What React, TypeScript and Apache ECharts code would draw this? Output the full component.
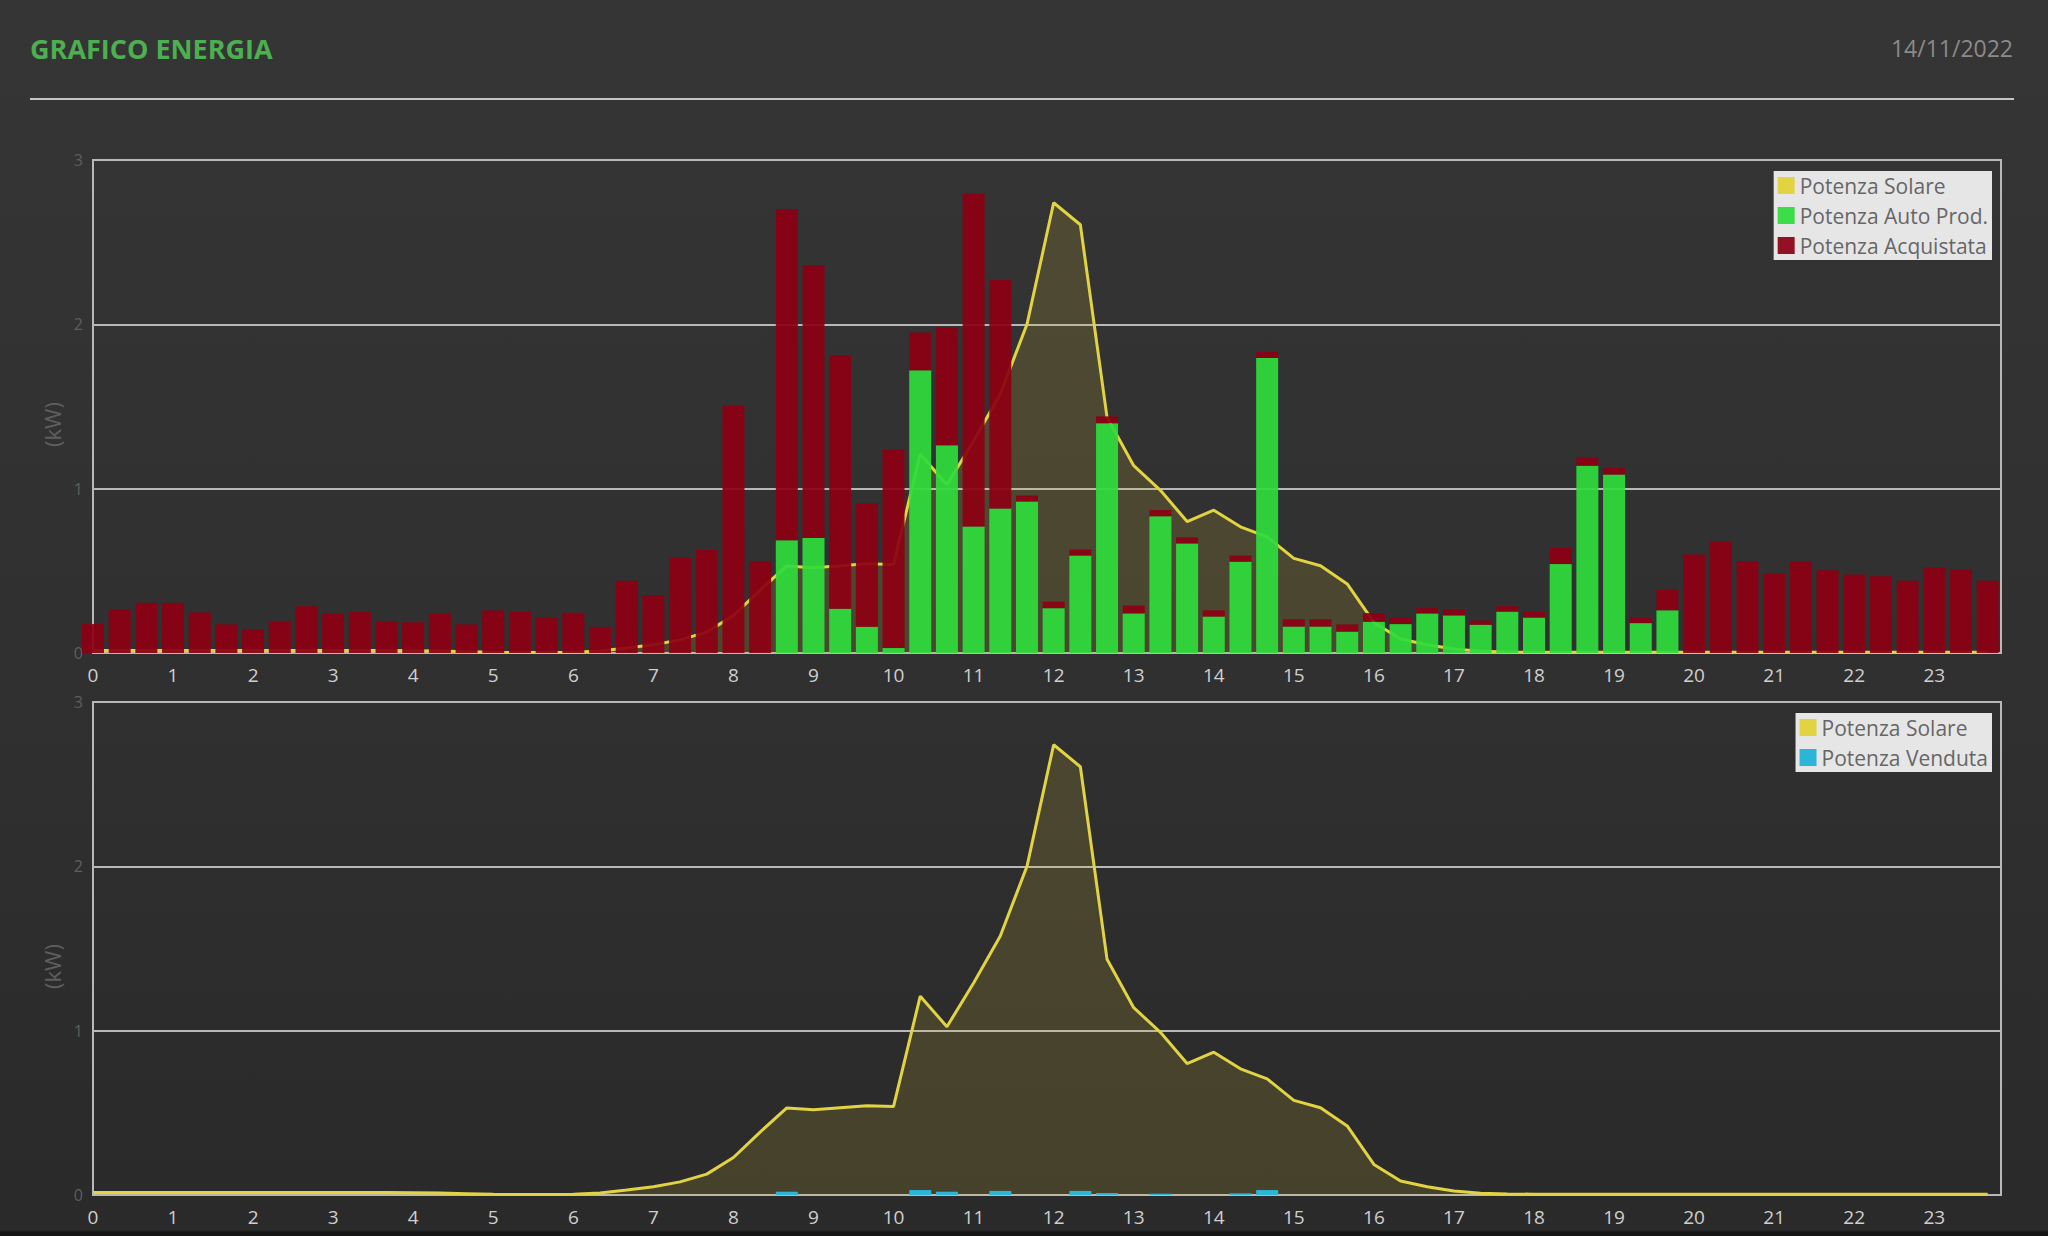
import React, { useEffect, useRef } from "react";
import * as echarts from "echarts";

// x axis: 10-minute slots from 0:00 to 23:50; readings every 20 minutes (0:00 ... 23:40)
const SLOTS_10MIN: string[] = Array.from(
  { length: 144 },
  (_, i) => `${Math.floor(i / 6)}:${String((i % 6) * 10).padStart(2, "0")}`
);
const HOUR_LABELS: string[] = Array.from({ length: 24 }, (_, i) => String(i));

const TITLE = "GRAFICO ENERGIA";
const DATE = "14/11/2022";
const Y_NAME = "(kW)";

// one value per 20-minute reading (72 readings)
const SOLAR: number[] = [
  0.015, 0.015, 0.015, 0.015, 0.015, 0.015, 0.015, 0.015, 0.015, 0.015, 0.015, 0.015,
  0.014, 0.012, 0.008, 0.004, 0.003, 0.003, 0.004, 0.012, 0.03, 0.05, 0.08, 0.127,
  0.228, 0.383, 0.53, 0.519, 0.531, 0.543, 0.539, 1.21, 1.024, 1.29, 1.576, 2.0,
  2.74, 2.606, 1.434, 1.14, 0.99, 0.8, 0.869, 0.768, 0.707, 0.576, 0.531, 0.42,
  0.186, 0.085, 0.05, 0.024, 0.01, 0.006, 0.005, 0.005, 0.005, 0.005, 0.005, 0.005,
  0.005, 0.005, 0.005, 0.005, 0.005, 0.005, 0.005, 0.005, 0.005, 0.005, 0.005, 0.005,
];

const AUTO_PROD: number[] = [
  0, 0, 0, 0, 0, 0, 0, 0, 0, 0, 0, 0,
  0, 0, 0, 0, 0, 0, 0, 0, 0, 0, 0, 0,
  0, 0, 0.686, 0.7, 0.27, 0.16, 0.03, 1.72, 1.264, 0.77, 0.88, 0.922,
  0.273, 0.593, 1.398, 0.241, 0.832, 0.667, 0.222, 0.556, 1.795, 0.161, 0.161, 0.13,
  0.19, 0.176, 0.241, 0.229, 0.172, 0.252, 0.216, 0.541, 1.14, 1.086, 0.182, 0.26,
  0, 0, 0, 0, 0, 0, 0, 0, 0, 0, 0, 0,
];

const ACQUISTATA: number[] = [
  0.176, 0.266, 0.306, 0.306, 0.247, 0.174, 0.145, 0.195, 0.285, 0.239, 0.249, 0.195,
  0.187, 0.241, 0.174, 0.258, 0.249, 0.218, 0.245, 0.159, 0.44, 0.352, 0.58, 0.627,
  1.505, 0.56, 2.014, 1.66, 1.54, 0.75, 1.207, 0.23, 0.716, 2.025, 1.39, 0.036,
  0.039, 0.036, 0.042, 0.048, 0.038, 0.037, 0.038, 0.037, 0.037, 0.044, 0.044, 0.044,
  0.053, 0.038, 0.032, 0.035, 0.025, 0.033, 0.034, 0.098, 0.05, 0.042, 0.032, 0.124,
  0.6, 0.677, 0.558, 0.482, 0.556, 0.503, 0.478, 0.467, 0.44, 0.522, 0.509, 0.44,
];

const VENDUTA: number[] = [
  0, 0, 0, 0, 0, 0, 0, 0, 0, 0, 0, 0,
  0, 0, 0, 0, 0, 0, 0, 0, 0, 0, 0, 0,
  0, 0, 0.02, 0, 0, 0, 0, 0.03, 0.02, 0, 0.025, 0,
  0, 0.025, 0.012, 0, 0.008, 0, 0, 0.01, 0.03, 0, 0, 0,
  0, 0, 0, 0, 0, 0, 0, 0, 0, 0, 0, 0,
  0, 0, 0, 0, 0, 0, 0, 0, 0, 0, 0, 0,
];

const LEGEND_TOP = ["Potenza Solare", "Potenza Auto Prod.", "Potenza Acquistata"];
const LEGEND_BOTTOM = ["Potenza Solare", "Potenza Venduta"];

const C_SOLAR = "#e2d343";
const C_GREEN = "#2fdc3c";
const C_RED = "#8c0012";
const C_CYAN = "#2bb6d8";
const C_GRID = "#b8b8b8";

// place each 20-minute reading on its 10-minute slot (even slots), gaps elsewhere
const toSlots = (vals: number[]) =>
  SLOTS_10MIN.map((_, i) => (i % 2 === 0 && i / 2 < vals.length ? vals[i / 2] : null));

export default function App() {
  const ref = useRef<HTMLDivElement>(null);

  useEffect(() => {
    if (!ref.current) return;
    const chart = echarts.init(ref.current, undefined, { renderer: "svg" });

    const font = "'Open Sans', 'Noto Sans', sans-serif";

    const xAxis = (gridIndex: number) => ({
      type: "category",
      gridIndex,
      data: SLOTS_10MIN,
      boundaryGap: false,
      axisLine: { show: true, lineStyle: { color: C_GRID, width: 2 } },
      axisTick: { show: false },
      splitLine: { show: false },
      axisLabel: {
        color: "#cfcfcf",
        fontSize: 19,
        fontFamily: font,
        margin: 12,
        interval: (index: number) => index % 6 === 0,
        formatter: (_v: string, index: number) => HOUR_LABELS[Math.floor(index / 6)],
      },
    });

    const yAxis = (gridIndex: number) => ({
      type: "value",
      gridIndex,
      min: 0,
      max: 3,
      interval: 1,
      axisLine: { show: true, lineStyle: { color: C_GRID, width: 2 } },
      axisTick: { show: false },
      splitLine: { show: true, lineStyle: { color: C_GRID, width: 2 } },
      axisLabel: { color: "#5e5e5e", fontSize: 16, fontFamily: font, margin: 10 },
      name: Y_NAME,
      nameLocation: "middle",
      nameRotate: 90,
      nameGap: 28,
      nameTextStyle: { color: "#5e5e5e", fontSize: 22, fontFamily: font, padding: [0, 36, 0, 0] },
    });

    const legend = (data: string[], top: number) => ({
      data,
      orient: "vertical",
      right: 56,
      top,
      backgroundColor: "#e6e6e6",
      padding: 4,
      itemGap: 9,
      itemWidth: 17,
      itemHeight: 17,
      icon: "rect",
      borderRadius: 0,
      textStyle: { color: "#666666", fontSize: 21, lineHeight: 21, fontFamily: font },
    });

    const solarSeries = (idx: number) => ({
      name: "Potenza Solare",
      type: "line",
      xAxisIndex: idx,
      yAxisIndex: idx,
      data: toSlots(SOLAR),
      connectNulls: true,
      symbol: "none",
      z: 1,
      lineStyle: { color: C_SOLAR, width: 3 },
      itemStyle: { color: C_SOLAR },
      areaStyle: { color: "rgba(205,185,45,0.24)" },
    });

    const option: any = {
      animation: false,
      backgroundColor: "transparent",
      title: [
        {
          text: TITLE,
          left: 30,
          top: 35,
          padding: 0,
          textStyle: { color: "#4caf50", fontSize: 27, fontWeight: "bold", fontFamily: font },
        },
        {
          text: DATE,
          right: 35,
          top: 36,
          padding: 0,
          textStyle: { color: "#8a8a8a", fontSize: 23, fontWeight: "normal", fontFamily: font },
        },
      ],
      graphic: [
        {
          type: "line",
          shape: { x1: 30, y1: 99, x2: 2014, y2: 99 },
          style: { stroke: "#c4c4c4", lineWidth: 2 },
          silent: true,
        },
      ],
      legend: [legend(LEGEND_TOP, 171), legend(LEGEND_BOTTOM, 713)],
      grid: [
        { left: 93, top: 160, width: 1908, height: 493, show: true, borderColor: C_GRID, borderWidth: 2, backgroundColor: "transparent" },
        { left: 93, top: 702, width: 1908, height: 493, show: true, borderColor: C_GRID, borderWidth: 2, backgroundColor: "transparent" },
      ],
      xAxis: [xAxis(0), xAxis(1)],
      yAxis: [yAxis(0), yAxis(1)],
      series: [
        solarSeries(0),
        {
          name: "Potenza Auto Prod.",
          type: "bar",
          xAxisIndex: 0,
          yAxisIndex: 0,
          stack: "tot",
          barWidth: 22,
          z: 2,
          data: toSlots(AUTO_PROD),
          itemStyle: { color: C_GREEN, opacity: 0.93 },
        },
        {
          name: "Potenza Acquistata",
          type: "bar",
          xAxisIndex: 0,
          yAxisIndex: 0,
          stack: "tot",
          barWidth: 22,
          z: 2,
          data: toSlots(ACQUISTATA),
          itemStyle: { color: C_RED, opacity: 0.93 },
        },
        solarSeries(1),
        {
          name: "Potenza Venduta",
          type: "bar",
          xAxisIndex: 1,
          yAxisIndex: 1,
          barWidth: 22,
          z: 2,
          data: toSlots(VENDUTA),
          itemStyle: { color: C_CYAN },
        },
      ],
    };

    chart.setOption(option);
    return () => chart.dispose();
  }, []);

  return (
    <div
      style={{
        position: "fixed",
        left: 0,
        top: 0,
        width: 2048,
        height: 1236,
        background: "linear-gradient(to bottom, #353535 0%, #313131 45%, #2a2a2a 99.5%, #151515 99.7%)",
      }}
    >
      <div ref={ref} style={{ width: 2048, height: 1236 }} />
    </div>
  );
}
